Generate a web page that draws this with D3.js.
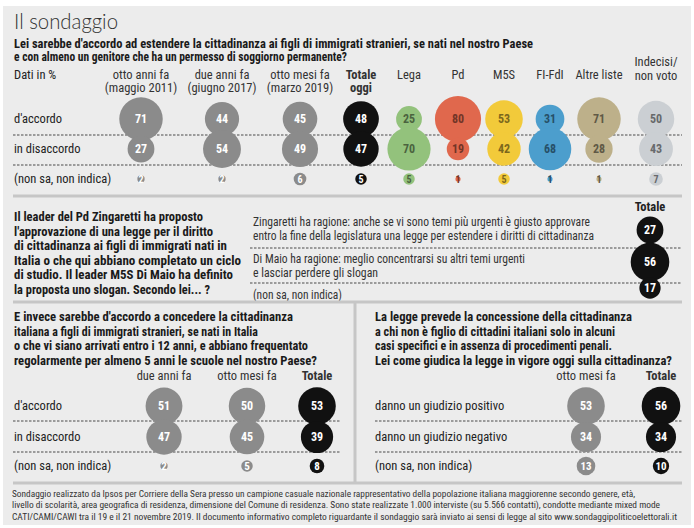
<!DOCTYPE html>
<html><head><meta charset="utf-8">
<script src="https://cdn.jsdelivr.net/npm/d3@7"></script>
<style>
html,body{margin:0;padding:0;background:#fff;}
svg{display:block;}
</style></head><body>
<svg id="chart" width="694" height="528"></svg>
<script>
// ---------------- DATA ----------------
const q1Columns = ["otto anni fa|(maggio 2011)", "due anni fa|(giugno 2017)", "otto mesi fa|(marzo 2019)", "Totale|oggi", "Lega", "Pd", "M5S", "FI-FdI", "Altre liste", "Indecisi/|non voto"];
const q1Rows = ["d'accordo", "in disaccordo", "(non sa, non indica)"];
const q1Accordo    = [71, 44, 45, 48, 25, 80, 53, 31, 71, 50];
const q1Disaccordo = [27, 54, 49, 47, 70, 19, 42, 68, 28, 43];
const q1NonSa      = [2, 2, 6, 5, 5, 1, 5, 1, 1, 7];

const q2Answers = [
  "Zingaretti ha ragione: anche se vi sono temi più urgenti è giusto approvare|entro la fine della legislatura una legge per estendere i diritti di cittadinanza",
  "Di Maio ha ragione: meglio concentrarsi su altri temi urgenti|e lasciar perdere gli slogan",
  "(non sa, non indica)"
];
const q2Totale = [27, 56, 17];

const q3Columns = ["due anni fa", "otto mesi fa", "Totale"];
const q3Rows = ["d'accordo", "in disaccordo", "(non sa, non indica)"];
const q3Accordo    = [51, 50, 53];
const q3Disaccordo = [47, 45, 39];
const q3NonSa      = [2, 5, 8];

const q4Columns = ["otto mesi fa", "Totale"];
const q4Rows = ["danno un giudizio positivo", "danno un giudizio negativo", "(non sa, non indica)"];
const q4Positivo = [53, 56];
const q4Negativo = [34, 34];
const q4NonSa    = [13, 10];

const titleText = "Il sondaggio";
const q1Question = ["Lei sarebbe d'accordo ad estendere la cittadinanza ai figli di immigrati stranieri, se nati nel nostro Paese",
  "e con almeno un genitore che ha un permesso di soggiorno permanente?"];
const q2Question = ["Il leader del Pd Zingaretti ha proposto", "l'approvazione di una legge per il diritto",
  "di cittadinanza ai figli di immigrati nati in", "Italia o che qui abbiano completato un ciclo",
  "di studio. Il leader M5S Di Maio ha definito", "la proposta uno slogan. Secondo lei... ?"];
const q3Question = ["E invece sarebbe d'accordo a concedere la cittadinanza", "italiana a figli di immigrati stranieri, se nati in Italia",
  "o che vi siano arrivati entro i 12 anni, e abbiano frequentato", "regolarmente per almeno 5 anni le scuole nel nostro Paese?"];
const q4Question = ["La legge prevede la concessione della cittadinanza", "a chi non è figlio di cittadini italiani solo in alcuni",
  "casi specifici e in assenza di procedimenti penali.", "Lei come giudica la legge in vigore oggi sulla cittadinanza?"];
const footerLines = [
  "Sondaggio realizzato da Ipsos per Corriere della Sera presso un campione casuale nazionale rappresentativo della popolazione italiana maggiorenne secondo genere, età,",
  "livello di scolarità, area geografica di residenza, dimensione del Comune di residenza. Sono state realizzate 1.000 interviste (su 5.566 contatti), condotte mediante mixed mode",
  "CATI/CAMI/CAWI tra il 19 e il 21 novembre 2019. Il documento informativo completo riguardante il sondaggio sarà inviato ai sensi di legge al sito www.sondaggipoliticoelettorali.it"
];

// ---------------- STYLE / LAYOUT ----------------
const FONT = "'Roboto Condensed','DejaVu Sans Condensed','Liberation Sans Narrow',sans-serif";
const NUMFONT = "'Roboto Condensed','Roboto','Liberation Sans',sans-serif";
const GRAY = "#8b8b8b", BLACK = "#111111";
const q1Colors = [GRAY, GRAY, GRAY, BLACK, "#93c27c", "#e0684d", "#f2ca3a", "#4c9ecd", "#bdb08a", "#cbcfd3"];
const rScale = d3.scaleSqrt().domain([0, 100]).range([0, 25.8]);

const svg = d3.select("#chart");
svg.append("rect").attr("x", 3).attr("y", 6).attr("width", 688).attr("height", 519).attr("fill", "#ececec");

function textBlock(g, lines, x, y0, dy, opts) {
  lines.forEach((t, i) => {
    const el = g.append("text").attr("x", x).attr("y", y0 + i * dy)
      .attr("font-family", opts.family || FONT).attr("font-size", opts.size)
      .attr("font-weight", opts.weight || 400).attr("fill", opts.fill || "#222")
      .attr("text-anchor", opts.anchor || "start").text(t);
    if (opts.widths && opts.widths[i]) el.attr("textLength", opts.widths[i]).attr("lengthAdjust", "spacingAndGlyphs");
  });
}
function hline(y, x1, x2) {
  svg.append("line").attr("x1", x1).attr("x2", x2).attr("y1", y).attr("y2", y)
    .attr("stroke", "#c6c6c6").attr("stroke-width", 3);
}
function dash(g, y, x1, x2) {
  g.append("line").attr("x1", x1).attr("x2", x2).attr("y1", y).attr("y2", y)
    .attr("stroke", "#4a4a4a").attr("stroke-width", 1).attr("stroke-dasharray", "2.5,1.5");
}
function bubbles(g, cols, rows, matrix, x, y, colorOf, sizes) {
  const data = [];
  rows.forEach((r, ri) => cols.forEach((c, ci) => data.push({ c, r, ri, ci, v: matrix[ri][ci] })));
  g.selectAll("circle.b").data(data).join("circle").attr("class", "b")
    .attr("cx", d => x(d.c)).attr("cy", d => y(d.r)).attr("r", d => rScale(d.v))
    .attr("fill", d => colorOf(d.ci));
  g.selectAll("text.b").data(data).join("text").attr("class", "b")
    .attr("x", d => x(d.c)).attr("y", d => y(d.r)).attr("dy", "0.36em")
    .attr("text-anchor", "middle").attr("font-family", NUMFONT).attr("font-weight", 700)
    .attr("font-size", d => d.ri === 2 ? sizes[1] : sizes[0])
    .attr("fill", d => {
      const c = colorOf(d.ci);
      return (c === GRAY || c === BLACK) ? "#fff" : d3.color(c).darker(1.9).formatHex();
    })
    .text(d => d.v);
}

// title
textBlock(svg, [titleText], 14, 29, 0, { size: 22, weight: 300, family: "'Lato','Open Sans','Roboto',sans-serif", fill: "#333", widths: [104] });
textBlock(svg, q1Question, 14, 47.5, 13.8, { size: 12.5, weight: 700, fill: "#1a1a1a", widths: [519, 333] });

// ---------- section 1 ----------
const s1 = svg.append("g");
const x1 = d3.scaleOrdinal().domain(q1Columns).range([141, 222, 300, 361, 409, 458, 504, 550, 599, 656]);
const y1 = d3.scaleOrdinal().domain(q1Rows).range([119, 149, 179]);
textBlock(s1, ["Dati in %"], 14, 78.5, 0, { size: 12.5 });
q1Columns.forEach((c, i) => {
  const parts = c.split("|");
  const y0 = c.startsWith("Indecisi") ? 66 : 78.5;
  textBlock(s1, parts, x1(c), y0, 13.5, { size: 12.5, anchor: "middle", weight: i === 3 ? 700 : 400, fill: "#333" });
});
q1Rows.forEach(r => textBlock(s1, [r], 14, y1(r) + 4, 0, { size: 12.5 }));
dash(s1, 135, 13, 682); dash(s1, 165, 13, 682);
bubbles(s1, q1Columns, q1Rows, [q1Accordo, q1Disaccordo, q1NonSa], x1, y1, i => q1Colors[i], [12, 10]);
hline(196, 13, 682);

// ---------- section 2 ----------
const s2 = svg.append("g");
textBlock(s2, q2Question, 14, 221, 14.6, { size: 12.5, weight: 700, fill: "#1a1a1a", widths: [189, 199, 213, 227, 219, 196] });
textBlock(s2, ["Totale"], 650, 211, 0, { size: 12.5, weight: 700, anchor: "middle" });
const y2text = d3.scaleOrdinal().domain(q2Answers).range([226, 263, 299]);
const y2 = d3.scaleOrdinal().domain(q2Answers).range([230, 262, 288]);
const q2Widths = [[337, 341], [272, 125], [89]];
q2Answers.forEach((a, i) => textBlock(s2, a.split("|"), 253, y2text(a), 13.8, { size: 12.5, fill: "#333", widths: q2Widths[i] }));
dash(s2, 248, 250, 682); dash(s2, 283, 250, 682);
const x2 = d3.scaleOrdinal().domain(["Totale"]).range([650]);
bubbles(s2, ["Totale"], q2Answers, q2Totale.map(v => [v]), x2, y2, () => BLACK, [12, 12]);
hline(302, 13, 682);

// ---------- section 3 ----------
const s3 = svg.append("g");
textBlock(s3, q3Question, 14, 321, 14.7, { size: 12.5, weight: 700, fill: "#1a1a1a", widths: [279, 244, 294, 303] });
const x3 = d3.scaleOrdinal().domain(q3Columns).range([164, 247, 317]);
const y3 = d3.scaleOrdinal().domain(q3Rows).range([406, 437, 466]);
q3Columns.forEach((c, i) => textBlock(s3, [c], x3(c), 380, 0, { size: 12.5, anchor: "middle", weight: i === 2 ? 700 : 400, fill: "#333" }));
q3Rows.forEach(r => textBlock(s3, [r], 14, y3(r) + 4, 0, { size: 12.5 }));
dash(s3, 421, 13, 340); dash(s3, 452, 13, 340);
bubbles(s3, q3Columns, q3Rows, [q3Accordo, q3Disaccordo, q3NonSa], x3, y3, i => i === 2 ? BLACK : GRAY, [12, 11]);

// ---------- section 4 ----------
const s4 = svg.append("g");
textBlock(s4, q4Question, 375, 321, 14.7, { size: 12.5, weight: 700, fill: "#1a1a1a", widths: [257, 240, 237, 297] });
const x4 = d3.scaleOrdinal().domain(q4Columns).range([586, 661]);
const y4 = d3.scaleOrdinal().domain(q4Rows).range([406, 437, 466]);
q4Columns.forEach((c, i) => textBlock(s4, [c], x4(c), 380, 0, { size: 12.5, anchor: "middle", weight: i === 1 ? 700 : 400, fill: "#333" }));
q4Rows.forEach(r => textBlock(s4, [r], 375, y4(r) + 4, 0, { size: 12.5 }));
dash(s4, 421, 375, 682); dash(s4, 452, 375, 682);
bubbles(s4, q4Columns, q4Rows, [q4Positivo, q4Negativo, q4NonSa], x4, y4, i => i === 1 ? BLACK : GRAY, [12, 11]);

svg.append("line").attr("x1", 355).attr("x2", 355).attr("y1", 302).attr("y2", 483).attr("stroke", "#c6c6c6").attr("stroke-width", 3);
hline(483, 13, 682);

// footer
textBlock(svg, footerLines, 12, 496.5, 11.8, { size: 9, fill: "#333", widths: [623, 648, 665] });
</script>
</body></html>
